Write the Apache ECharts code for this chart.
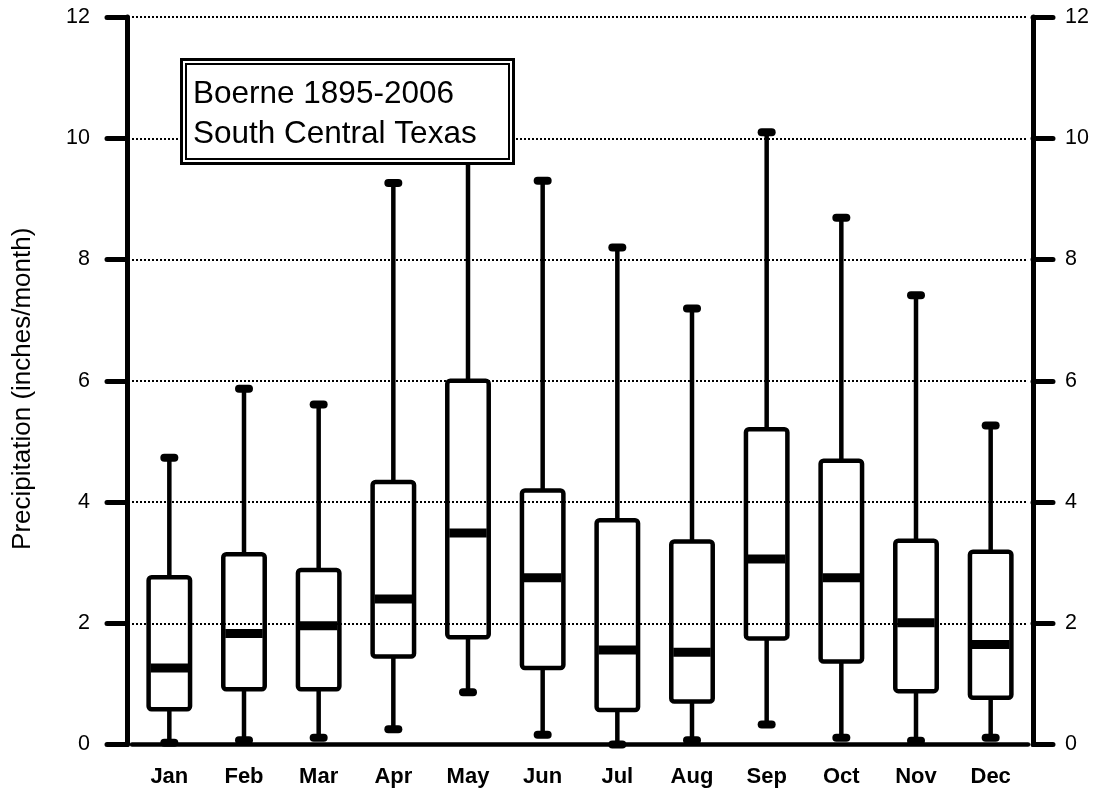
<!DOCTYPE html>
<html>
<head>
<meta charset="utf-8">
<title>Boerne monthly precipitation</title>
<script src="https://cdn.jsdelivr.net/npm/echarts@6/dist/echarts.min.js"></script>
<style>
  html, body { margin: 0; padding: 0; background: #fff; }
  #chart { width: 1099px; height: 793px; }
</style>
</head>
<body>
<div id="chart"></div>
<script>
// Monthly precipitation distribution (inches/month), Boerne, 1895-2006
const months = ['Jan', 'Feb', 'Mar', 'Apr', 'May', 'Jun', 'Jul', 'Aug', 'Sep', 'Oct', 'Nov', 'Dec'];
const minVals    = [0.03, 0.07, 0.11, 0.25, 0.86, 0.16, 0.00, 0.07, 0.33, 0.11, 0.06, 0.11];
const q1Vals     = [0.58, 0.91, 0.91, 1.45, 1.77, 1.26, 0.57, 0.71, 1.75, 1.37, 0.88, 0.77];
const medianVals = [1.26, 1.83, 1.96, 2.40, 3.49, 2.75, 1.56, 1.52, 3.06, 2.75, 2.01, 1.65];
const q3Vals     = [2.76, 3.14, 2.88, 4.33, 6.00, 4.19, 3.70, 3.35, 5.20, 4.68, 3.36, 3.18];
const maxVals    = [4.73, 5.87, 5.61, 9.26, 10.5, 9.30, 8.20, 7.19, 10.10, 8.69, 7.41, 5.26];
const yTicks = [0, 2, 4, 6, 8, 10, 12];

const boxData = months.map((m, i) => [i, minVals[i], q1Vals[i], medianVals[i], q3Vals[i], maxVals[i]]);

const FONT = '"Liberation Sans", Arial, Helvetica, sans-serif';
const chart = echarts.init(document.getElementById('chart'), null, { renderer: 'canvas' });

function renderBox(params, api) {
  const idx = api.value(0);
  const pt = (v) => api.coord([idx, v]);
  const pMin = pt(api.value(1));
  const pQ1 = pt(api.value(2));
  const pMed = pt(api.value(3));
  const pQ3 = pt(api.value(4));
  const pMax = pt(api.value(5));
  const cx = pMed[0];
  const bw = api.size([1, 0])[0] * 0.555;
  const capHalf = 5;
  const ink = '#000';
  return {
    type: 'group',
    children: [
      // upper whisker
      { type: 'line', shape: { x1: cx, y1: pQ3[1], x2: cx, y2: pMax[1] },
        style: { stroke: ink, lineWidth: 4.5 } },
      // lower whisker
      { type: 'line', shape: { x1: cx, y1: pQ1[1], x2: cx, y2: pMin[1] },
        style: { stroke: ink, lineWidth: 4.5 } },
      // whisker caps
      { type: 'line', shape: { x1: cx - capHalf, y1: pMax[1], x2: cx + capHalf, y2: pMax[1] },
        style: { stroke: ink, lineWidth: 8, lineCap: 'round' } },
      { type: 'line', shape: { x1: cx - capHalf, y1: pMin[1], x2: cx + capHalf, y2: pMin[1] },
        style: { stroke: ink, lineWidth: 8, lineCap: 'round' } },
      // interquartile box
      { type: 'rect', shape: { x: cx - bw / 2, y: pQ3[1], width: bw, height: pQ1[1] - pQ3[1], r: 3 },
        style: { fill: 'none', stroke: ink, lineWidth: 4.5, lineJoin: 'round' } },
      // median bar
      { type: 'line', shape: { x1: cx - bw / 2 + 2, y1: pMed[1], x2: cx + bw / 2 - 2, y2: pMed[1] },
        style: { stroke: ink, lineWidth: 9 } }
    ]
  };
}

const yAxisCommon = {
  type: 'value',
  min: yTicks[0],
  max: yTicks[yTicks.length - 1],
  interval: yTicks[1] - yTicks[0],
  offset: 5,
  axisLine: { show: true, lineStyle: { color: '#000', width: 5 } },
  axisTick: { show: true, inside: false, length: 20, lineStyle: { color: '#000', width: 5, cap: 'round' } },
  axisLabel: { color: '#000', fontFamily: FONT, fontSize: 21.5 }
};

// caption box sits above the plot, hiding whatever lies beneath it
const captionZ = 100;

chart.setOption({
  animation: false,
  backgroundColor: '#fff',
  grid: { left: 132, right: 71, top: 17, bottom: 48.5, containLabel: false },
  xAxis: {
    type: 'category',
    data: months,
    boundaryGap: true,
    axisLine: { show: true, lineStyle: { color: '#000', width: 4.5 } },
    axisTick: { show: false },
    axisLabel: { color: '#000', fontFamily: FONT, fontSize: 22, fontWeight: 'bold', margin: 21 },
    splitLine: { show: false }
  },
  yAxis: [
    Object.assign({}, yAxisCommon, {
      position: 'left',
      name: 'Precipitation (inches/month)',
      nameLocation: 'middle',
      nameRotate: 90,
      nameGap: 91,
      nameTextStyle: { color: '#000', fontFamily: FONT, fontSize: 26, padding: [0, 16, 0, 0] },
      axisLabel: Object.assign({}, yAxisCommon.axisLabel, { margin: 37 }),
      splitLine: { show: true, lineStyle: { color: '#000', width: 2, type: [2, 2] } }
    }),
    Object.assign({}, yAxisCommon, {
      position: 'right',
      axisLabel: Object.assign({}, yAxisCommon.axisLabel, { margin: 32 }),
      splitLine: { show: false }
    })
  ],
  graphic: [
    { type: 'rect', z: captionZ, zlevel: 1, shape: { x: 181.5, y: 59.5, width: 332, height: 104 },
      style: { fill: '#fff', stroke: '#000', lineWidth: 3 } },
    { type: 'rect', z: captionZ + 1, zlevel: 1, shape: { x: 186, y: 64, width: 323, height: 95 },
      style: { fill: 'none', stroke: '#000', lineWidth: 2 } },
    { type: 'text', z: captionZ + 2, zlevel: 1, x: 193, y: 94,
      style: { text: 'Boerne 1895-2006', fill: '#000', font: '31.5px ' + FONT, verticalAlign: 'middle', align: 'left' } },
    { type: 'text', z: captionZ + 2, zlevel: 1, x: 193, y: 134,
      style: { text: 'South Central Texas', fill: '#000', font: '31.5px ' + FONT, verticalAlign: 'middle', align: 'left' } }
  ],
  series: [
    {
      type: 'custom',
      name: 'Precipitation',
      renderItem: renderBox,
      data: boxData,
      encode: { x: 0, y: [1, 2, 3, 4, 5] },
      z: 3
    }
  ]
});
</script>
</body>
</html>
